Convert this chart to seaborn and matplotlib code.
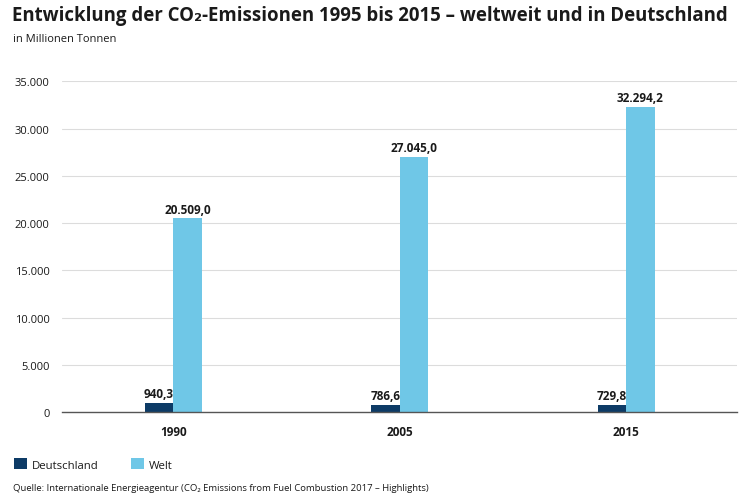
import numpy as np
import pandas as pd
import matplotlib
matplotlib.use('Agg')
import matplotlib.pyplot as plt
import seaborn as sns

years = ['1990', '2005', '2015']
deutschland = [940.3, 786.6, 729.8]
welt = [20509.0, 27045.0, 32294.2]
series = ['Deutschland', 'Welt']
colors = ['#0d3b66', '#6fc7e7']
yticks = [0, 5000, 10000, 15000, 20000, 25000, 30000, 35000]


def de_format(value, decimals=0):
    '''German number format: 32.294,2'''
    s = f'{value:,.{decimals}f}'
    return s.replace(',', 'X').replace('.', ',').replace('X', '.')


df = pd.DataFrame({
    'Jahr': years * 2,
    'Wert': deutschland + welt,
    'Region': [series[0]] * 3 + [series[1]] * 3,
})

sns.set_theme(style='white')
plt.rcParams['font.family'] = ['Open Sans', 'DejaVu Sans']
text_col = '#1a1a1a'

fig = plt.figure(figsize=(7.5, 5.02), dpi=100)
ax = fig.add_axes([0.083, 0.177, 0.9, 0.659])

sns.barplot(data=df, x='Jahr', y='Wert', hue='Region', palette=colors,
            width=0.25, gap=0, saturation=1, ax=ax, errorbar=None,
            linewidth=0)

ax.set_xlim(-0.49, 2.49)
ax.set_ylim(0, 35000)
ax.set_yticks(yticks)
ax.set_yticklabels([de_format(t) for t in yticks], fontsize=8, color=text_col)
ax.tick_params(axis='y', length=0, pad=9)
ax.tick_params(axis='x', length=0, pad=9)
for lab in ax.get_xticklabels():
    lab.set_fontweight('bold')
    lab.set_fontsize(8.5)
    lab.set_color(text_col)
ax.set_xlabel('')
ax.set_ylabel('')

ax.grid(axis='y', color='#dcdcdc', linewidth=0.8)
ax.set_axisbelow(True)
for side in ['top', 'right', 'left']:
    ax.spines[side].set_visible(False)
ax.spines['bottom'].set_color('#555555')
ax.spines['bottom'].set_linewidth(1.0)

for container in ax.containers:
    ax.bar_label(container, labels=[de_format(b.get_height(), 1) for b in container],
                 padding=2, fontsize=8.5, fontweight='bold', color=text_col,
                 clip_on=False)

handles, labels = ax.get_legend_handles_labels()
ax.get_legend().remove()
fig.legend(handles, labels, loc='center left', bbox_to_anchor=(0.005, 0.073),
           ncol=2, frameon=False, fontsize=8.2, handlelength=1.1,
           handleheight=1.1, handletextpad=0.45, columnspacing=2.9,
           labelcolor=text_col)

fig.text(0.016, 0.968, 'Entwicklung der CO\u2082-Emissionen 1995 bis 2015 \u2013 weltweit und in Deutschland',
         fontsize=13.4, fontweight='bold', color=text_col, va='center')
fig.text(0.018, 0.921, 'in Millionen Tonnen', fontsize=8, color=text_col, va='center')
fig.text(0.018, 0.027, 'Quelle: Internationale Energieagentur (CO\u2082 Emissions from Fuel Combustion 2017 \u2013 Highlights)',
         fontsize=6.8, color=text_col, va='center')

fig.savefig('out.png', dpi=100, facecolor='white')
